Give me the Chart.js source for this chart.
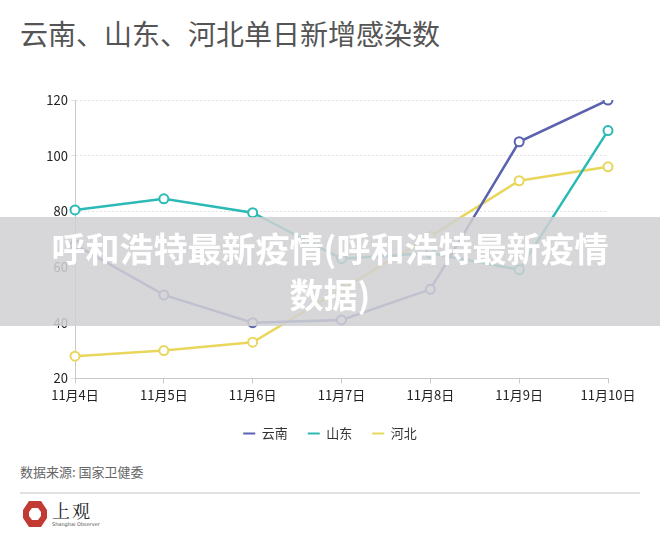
<!DOCTYPE html>
<html>
<head>
<meta charset="utf-8">
<script src="https://cdn.jsdelivr.net/npm/chart.js@4"></script>
<style>
  body { margin: 0; width: 660px; height: 543px; background: #fff; position: relative; overflow: hidden;
         font-family: "Noto Sans CJK SC", "Noto Sans", sans-serif; }
  #title { position: absolute; left: 20px; top: 13px; font-size: 28px; color: #555; }
  #wrap { position: absolute; left: 0; top: 89px; width: 660px; height: 361px; }
  #band { position: absolute; left: 0; top: 217px; width: 660px; height: 109px; background: rgba(208,209,211,0.86);
          color: #fff; font-weight: bold; font-size: 34px; line-height: 46px; text-align: center; padding-top: 8px; box-sizing: border-box; }
  #source { position: absolute; left: 20px; top: 462px; font-size: 13px; color: #666; }
  #rule { position: absolute; left: 20px; top: 492px; width: 620px; height: 2px; background: #e2e2e2; }
  #logo { position: absolute; left: 22px; top: 500px; width: 120px; height: 30px; }
  #logo .cn { position: absolute; left: 30px; top: -3px; font-size: 18px; color: #222; white-space: nowrap; letter-spacing: 2px;
              font-family: "Noto Serif CJK SC", "Noto Sans CJK SC", serif; }
  #logo .en { position: absolute; left: 30px; top: 21px; font-size: 5px; color: #555; white-space: nowrap; font-family: "DejaVu Sans", sans-serif; }
</style>
</head>
<body>
<div id="title">云南、山东、河北单日新增感染数</div>
<div id="wrap"><canvas id="myChart"></canvas></div>
<div id="band">呼和浩特最新疫情(呼和浩特最新疫情<br>数据)</div>
<div id="source">数据来源: 国家卫健委</div>
<div id="rule"></div>
<div id="logo">
  <svg width="26" height="28" viewBox="0 0 26 28">
    <polygon points="7,1 19,1 25,10 25,18 19,27 7,27 1,18 1,10" fill="#c23a32"/>
    <polygon points="10,8 16,8 19,12 19,16 16,20 10,20 7,16 7,12" fill="#fff"/>
  </svg>
  <span class="cn">上观</span>
  <span class="en">Shanghai Observer</span>
</div>
<script>
const labels = ['11月4日', '11月5日', '11月6日', '11月7日', '11月8日', '11月9日', '11月10日'];
const yunnan = [68, 50, 40, 41, 52, 105, 120];
const shandong = [80.5, 84.5, 79.5, 63, 65, 59, 109];
const hebei = [28, 30, 33, 52, 71, 91, 96];
const yTicks = [20, 40, 60, 80, 100, 120];

function series(name, values, color) {
  return {
    label: name,
    data: values,
    borderColor: color,
    backgroundColor: '#fff',
    borderWidth: 2.5,
    pointRadius: 4.5,
    pointBorderWidth: 2,
    pointBackgroundColor: '#fff',
    pointBorderColor: color,
    tension: 0
  };
}

const tickFont = { family: '"Noto Sans CJK SC"', size: 13 };

const config = {
  type: 'line',
  data: {
    labels: labels,
    datasets: [
      series('云南', yunnan, '#5b62b0'),
      series('山东', shandong, '#2bbab5'),
      series('河北', hebei, '#e9d65c')
    ]
  },
  options: {
    responsive: true,
    maintainAspectRatio: false,
    animation: false,
    layout: { padding: { top: 11, right: 0, left: 0, bottom: 0 } },
    plugins: {
      legend: {
        position: 'bottom',
        labels: {
          usePointStyle: true,
          pointStyle: 'line',
          pointStyleWidth: 12,
          boxHeight: 12,
          padding: 20,
          color: '#333',
          font: { family: '"Noto Sans CJK SC"', size: 13 }
        }
      },
      tooltip: { enabled: false }
    },
    scales: {
      x: {
        offset: false,
        afterFit: axis => { axis.paddingRight = 52; },
        grid: { drawOnChartArea: false, drawTicks: true, tickLength: 5, color: '#c8c8c8' },
        border: { color: '#c8c8c8', width: 1 },
        ticks: { color: '#222', padding: 4, maxRotation: 0, autoSkip: false, font: tickFont }
      },
      y: {
        min: 20,
        max: 120,
        afterBuildTicks: axis => { axis.ticks = yTicks.map(v => ({ value: v })); },
        afterFit: axis => { axis.width = 75; },
        grid: { color: '#e3e3e3', tickLength: 4, drawTicks: true },
        border: { color: '#c8c8c8', width: 1, dash: [2, 2] },
        ticks: { color: '#222', padding: 3, font: tickFont }
      }
    }
  }
};

new Chart(document.getElementById('myChart').getContext('2d'), config);
</script>
</body>
</html>
